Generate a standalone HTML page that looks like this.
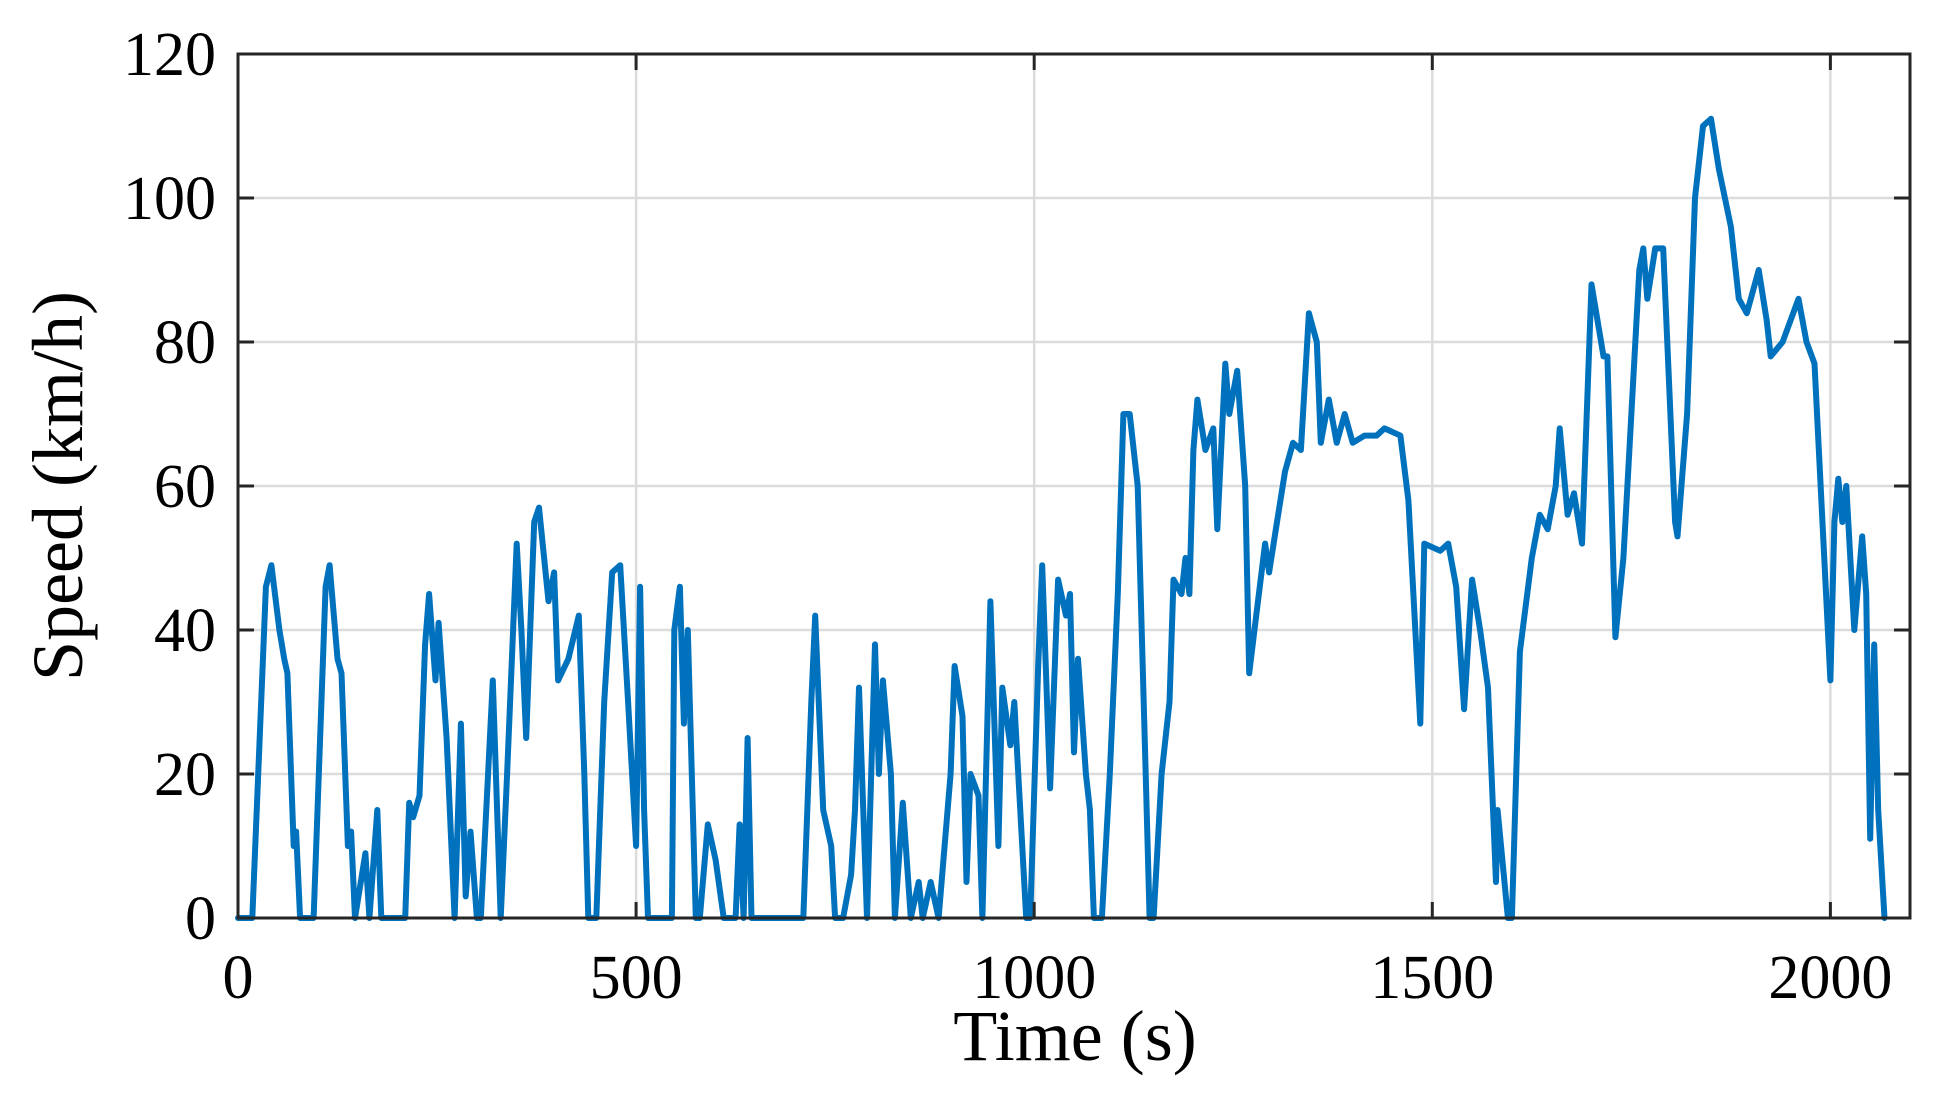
<!DOCTYPE html>
<html><head><meta charset="utf-8"><style>
html,body{margin:0;padding:0;background:#fff;}
svg{display:block;}
text{font-family:"Liberation Serif",serif;fill:#000;}
</style></head><body>
<svg id="chart" width="1942" height="1100" viewBox="0 0 1942 1100" xmlns="http://www.w3.org/2000/svg">
<g id="grid"></g>
<g id="series"></g>
<g id="axes"></g>
<text x="1075" y="1060" font-size="72" text-anchor="middle">Time (s)</text>
<text transform="translate(82,486) rotate(-90)" font-size="72" text-anchor="middle">Speed (km/h)</text>
</svg>
<script>
const times = [0,18,35,42,52,58,62,70,73,78,95,110,115,125,130,138,142,147,160,165,175,180,210,215,220,228,235,240,248,252,262,272,280,286,292,300,305,320,330,338,350,356,362,372,378,390,397,402,415,428,435,440,450,460,470,480,490,500,505,510,515,545,548,555,560,565,575,580,590,600,610,625,630,635,640,645,710,720,725,735,745,750,760,770,775,780,790,800,805,810,820,825,835,845,855,860,870,880,895,900,910,915,920,930,935,945,955,960,970,975,990,995,1005,1010,1020,1030,1040,1045,1050,1055,1065,1070,1075,1085,1095,1105,1112,1120,1130,1140,1145,1150,1160,1170,1175,1185,1190,1195,1200,1205,1215,1225,1230,1240,1245,1255,1265,1270,1280,1290,1295,1305,1315,1325,1335,1345,1355,1360,1370,1380,1390,1400,1415,1430,1440,1460,1470,1485,1490,1510,1520,1530,1540,1550,1560,1570,1580,1582,1595,1600,1610,1625,1635,1645,1655,1660,1670,1678,1688,1700,1715,1720,1730,1740,1745,1760,1765,1770,1780,1790,1805,1808,1820,1830,1840,1850,1860,1875,1885,1895,1900,1910,1920,1925,1940,1960,1970,1980,2000,2005,2010,2015,2020,2030,2040,2045,2050,2055,2060,2068];
const speeds = [0,0,46,49,40,36,34,10,12,0,0,46,49,36,34,10,12,0,9,0,15,0,0,16,14,17,38,45,33,41,25,0,27,3,12,0,0,33,0,20,52,40,25,55,57,44,48,33,36,42,20,0,0,30,48,49,30,10,46,15,0,0,40,46,27,40,0,0,13,8,0,0,13,0,25,0,0,30,42,15,10,0,0,6,15,32,0,38,20,33,20,0,16,0,5,0,5,0,20,35,28,5,20,17,0,44,10,32,24,30,0,0,35,49,18,47,42,45,23,36,20,15,0,0,20,45,70,70,60,20,0,0,20,30,47,45,50,45,65,72,65,68,54,77,70,76,60,34,43,52,48,55,62,66,65,84,80,66,72,66,70,66,67,67,68,67,58,27,52,51,52,46,29,47,40,32,5,15,0,0,37,50,56,54,60,68,56,59,52,88,78,78,39,50,60,90,93,86,93,93,55,53,70,100,110,111,104,96,86,84,86,90,83,78,80,86,80,77,33,55,61,55,60,40,53,45,11,38,15,0];
const xTicks = [0,500,1000,1500,2000];
const yTicks = [0,20,40,60,80,100,120];

const L=238,R=1910,T=54,B=918,XMAX=2100,YMAX=120;
const sx=t=>L+(t/XMAX)*(R-L);
const sy=v=>B-(v/YMAX)*(B-T);
const NS="http://www.w3.org/2000/svg";
function mk(tag,attrs,parent){const e=document.createElementNS(NS,tag);for(const k in attrs)e.setAttribute(k,attrs[k]);parent.appendChild(e);return e;}
const grid=document.getElementById('grid'),axes=document.getElementById('axes'),series=document.getElementById('series');
xTicks.forEach(t=>{
  const g=mk('line',{x1:sx(t),x2:sx(t),y1:T,y2:B,stroke:'#dcdcdc','stroke-width':2.5},grid);
  
  
  const tk=mk('line',{x1:sx(t),x2:sx(t),y1:B,y2:B-16,stroke:'#262626','stroke-width':3},axes);
  
  
  const tk2=mk('line',{x1:sx(t),x2:sx(t),y1:T,y2:T+16,stroke:'#262626','stroke-width':3},axes);
  
  
  const lb=mk('text',{x:sx(t),y:998,'font-size':62,'text-anchor':'middle'},axes);
  lb.textContent=t;
  
  
});
yTicks.forEach(v=>{
  const g=mk('line',{x1:L,x2:R,y1:sy(v),y2:sy(v),stroke:'#dcdcdc','stroke-width':2.5},grid);
  
  
  const tk=mk('line',{x1:L,x2:L+16,y1:sy(v),y2:sy(v),stroke:'#262626','stroke-width':3},axes);
  
  
  const tk2=mk('line',{x1:R,x2:R-16,y1:sy(v),y2:sy(v),stroke:'#262626','stroke-width':3},axes);
  
  
  const lb=mk('text',{x:216,y:sy(v)+21,'font-size':62,'text-anchor':'end'},axes);
  lb.textContent=v;
  
  
});
const box=mk('rect',{x:L,y:T,width:R-L,height:B-T,fill:'none',stroke:'#262626','stroke-width':3},axes);


const pts=times.map((t,i)=>sx(t).toFixed(1)+','+sy(speeds[i]).toFixed(1)).join(' ');
const line=mk('polyline',{points:pts,fill:'none',stroke:'#0072BD','stroke-width':6,'stroke-linejoin':'round','stroke-linecap':'round'},series);


</script>
</body></html>
